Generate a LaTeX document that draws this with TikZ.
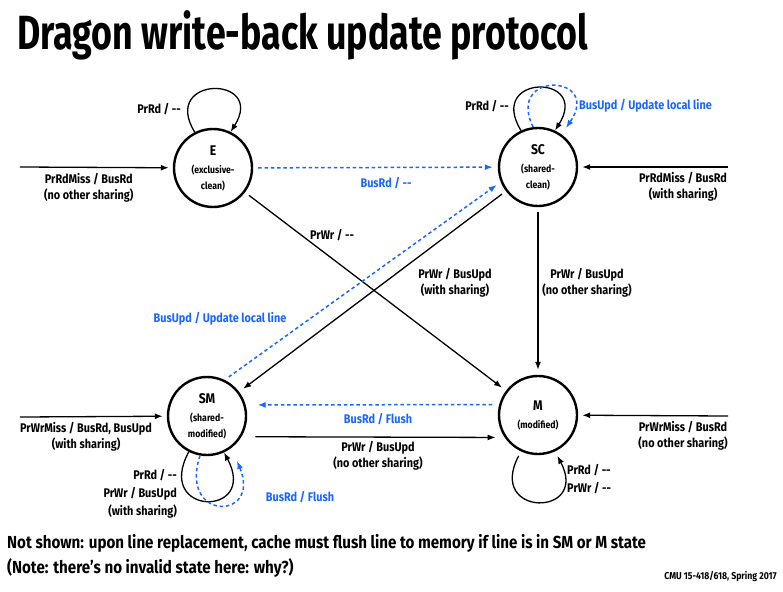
\documentclass[tikz,border=0pt]{standalone}
\usepackage{fontspec}
\setmainfont{Fira Sans}[FakeStretch=0.87]
\newfontfamily\titlefont{Fira Sans}[FakeStretch=0.745]
\usetikzlibrary{arrows.meta}

\definecolor{busblue}{RGB}{26,102,255}

\tikzset{
  state/.style={circle, draw, line width=2.4pt, minimum size=78pt, inner sep=0pt,
    align=center, font=\bfseries\fontsize{14}{16}\selectfont},
  trans/.style={-{Latex[length=8pt,width=6pt]}, line width=1.3pt,
    shorten >=5pt, shorten <=5pt},
  entry/.style={trans, shorten <=0pt, shorten >=4pt},
  selfloop/.style={trans, shorten >=0pt, shorten <=0pt},
  snoop/.style={busblue, dash pattern=on 3.5pt off 2.8pt, line width=1.5pt},
  lbl/.style={font=\bfseries\fontsize{12.5}{16}\selectfont, align=center, inner sep=1pt},
  bluelbl/.style={lbl, text=busblue},
}

\newcommand{\substate}{\fontsize{10}{12}\selectfont}
\newcommand{\none}{-{}-}

\begin{document}
\begin{tikzpicture}[x=1pt, y=-1pt]
\useasboundingbox (0,0) rectangle (783,591);

% title
\node[anchor=west, inner sep=0pt, font=\titlefont\bfseries\fontsize{48}{52}\selectfont] (title) at (17,35) {Dragon write-back update protocol};

% states
\node[state] (E) at (213,168) {E\\[2pt]\substate (exclusive-\\\substate clean)};
\node[state] (SC) at (538,167) {SC\\[2pt]\substate (shared-\\\substate clean)};
\node[state] (SM) at (207,416) {SM\\[2pt]\substate (shared-\\\substate modified)};
\node[state] (M) at (538,415) {M\\[2pt]\substate (modified)};

% misses coming in from outside
\coordinate (Ein) at (20,167);
\coordinate (SCin) at (728,167);
\coordinate (SMin) at (20,417);
\coordinate (Min) at (728,416);

\draw[entry] (Ein) -- (E) node [pos=0.45, below=4pt, lbl] {PrRdMiss / BusRd\\(no other sharing)};
\draw[entry] (SCin) -- (SC) node [pos=0.3, below=4pt, lbl] {PrRdMiss / BusRd\\(with sharing)};
\draw[entry] (SMin) -- (SM) node [pos=0.45, below=4pt, lbl] {PrWrMiss / BusRd, BusUpd\\(with sharing)};
\draw[entry] (Min) -- (M) node [pos=0.3, below=4pt, lbl] {PrWrMiss / BusRd\\(no other sharing)};

% transitions between states
\draw[trans, snoop] (E) -- (SC);
\node[bluelbl] at (386,183) {BusRd / \none};

\draw[trans] (E) -- (M);
\node[lbl] at (332,235) {PrWr / \none};

\draw[trans] (SC) -- (SM);
\node[lbl] at (455,283) {PrWr / BusUpd\\(with sharing)};

\draw[trans, snoop] (SM.64) -- (SC.202);
\node[bluelbl] at (220,319) {BusUpd / Update local line};

\draw[trans] (SC) -- (M);
\node[lbl] at (587,283) {PrWr / BusUpd\\(no other sharing)};

\draw[trans, snoop, shorten <=7pt, shorten >=12pt] (M.165) -- (SM.16);
\node[bluelbl] at (378,419) {BusRd / Flush};

\draw[trans, shorten <=14pt, shorten >=9pt] (SM.-31) -- (M.214);
\node[lbl] at (378,456) {PrWr / BusUpd\\(no other sharing)};

% self loops
\coordinate (SCbus) at (566,128);
\coordinate (SMbus) at (237,461);

\draw[selfloop] (E.117) .. controls +(-35,-57) and +(36,-57) .. (E.64);
\node[lbl, anchor=east] at (182,109) {PrRd / \none};

\draw[selfloop] (SC.115) .. controls +(-35,-57) and +(36,-57) .. (SC.65);
\node[lbl, anchor=east] at (510,106) {PrRd / \none};
\draw[selfloop, snoop] (SC.97) .. controls +(-28,-57) and +(37,-54) .. (SCbus);
\node[bluelbl, anchor=west] at (578,106) {BusUpd / Update local line};

\draw[selfloop] (SM.243) .. controls +(-35,65) and +(35,65) .. (SM.295);
\draw[selfloop, snoop] (SM.260) .. controls +(-22,66) and +(25,60) .. (SMbus);
\node[lbl, anchor=east, align=right] at (178,494) {PrRd / \none\\[2pt]PrWr / BusUpd\\[2pt](with sharing)};
\node[bluelbl] at (300,497) {BusRd / Flush};

\draw[selfloop, shorten <=5pt, shorten >=5pt] (M.245) .. controls +(-35,66) and +(35,66) .. (M.295);
\node[lbl, anchor=west, align=left] at (566,479) {PrRd / \none\\[2pt]PrWr / \none};

% notes at the bottom
\node[anchor=west, inner sep=0pt, font=\bfseries\fontsize{17.4}{20}\selectfont] (note1) at (7,543) {Not shown: upon line replacement, cache must flush line to memory if line is in SM or M state};
\node[anchor=west, inner sep=0pt, font=\bfseries\fontsize{17.4}{20}\selectfont] (note2) at (7,568) {(Note: there’s no invalid state here: why?)};
\node[anchor=east, inner sep=0pt, font=\bfseries\fontsize{10}{11}\selectfont] (course) at (777,577) {CMU 15-418/618, Spring 2017};

\end{tikzpicture}
\end{document}
